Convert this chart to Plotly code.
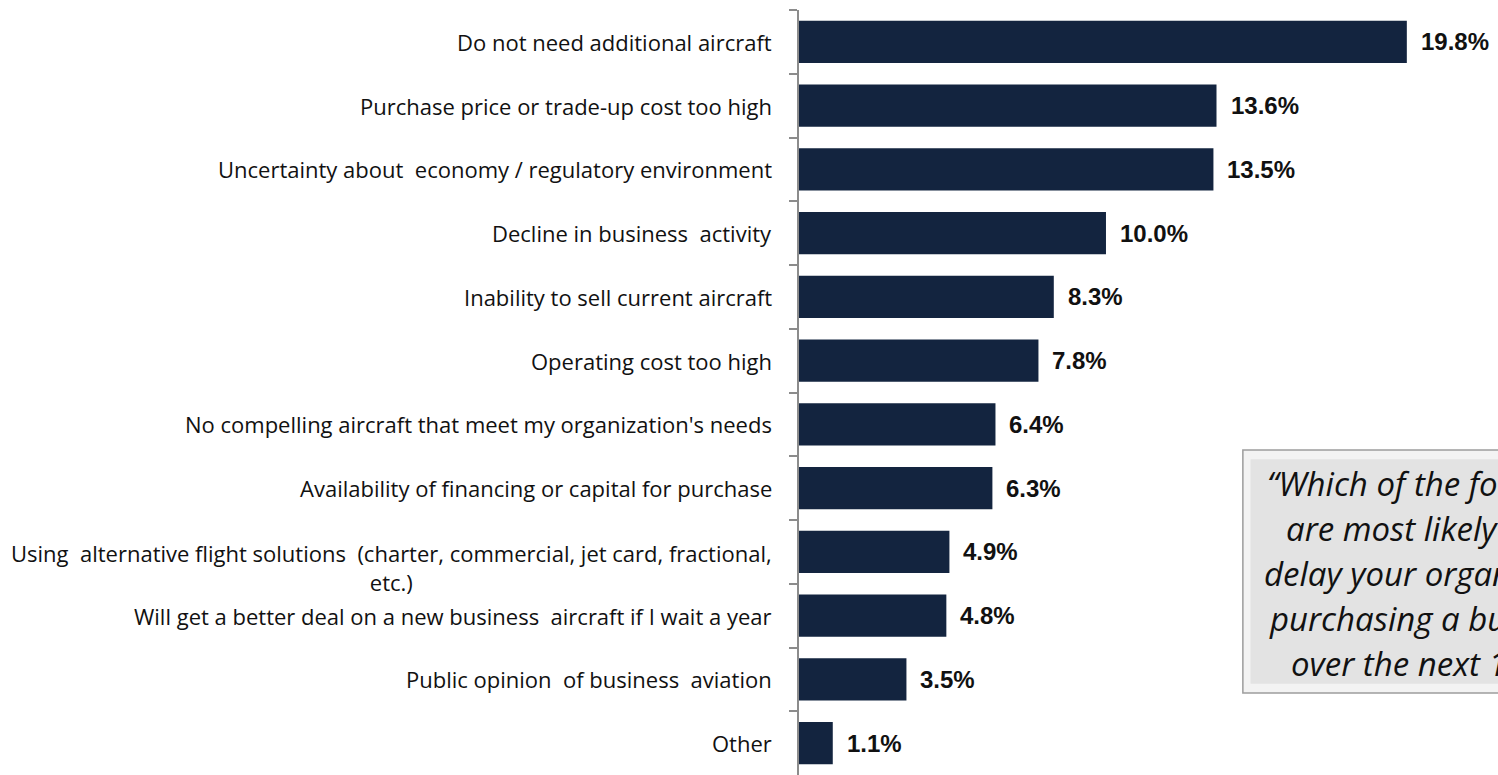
import plotly.graph_objects as go

# survey answers, top to bottom
categories = [
    "Do not need additional aircraft",
    "Purchase price or trade-up cost too high",
    "Uncertainty about  economy / regulatory environment",
    "Decline in business  activity",
    "Inability to sell current aircraft",
    "Operating cost too high",
    "No compelling aircraft that meet my organization's needs",
    "Availability of financing or capital for purchase",
    "Using  alternative flight solutions  (charter, commercial, jet card, fractional,<br>etc.)",
    "Will get a better deal on a new business  aircraft if I wait a year",
    "Public opinion  of business  aviation",
    "Other",
]
shares = [19.8, 13.6, 13.5, 10.0, 8.3, 7.8, 6.4, 6.3, 4.9, 4.8, 3.5, 1.1]
value_labels = [f"{v:.1f}%" for v in shares]

question_lines = [
    "“Which of the following factors",
    "are most likely to cause you to",
    "delay your organization from",
    "purchasing a business aircraft",
    "over the next 12 months?”",
]

NAVY = "#13243f"
LABEL_FONT = dict(family="Open Sans, Lato, sans-serif", size=22, color="#111111")

fig = go.Figure()

fig.add_trace(go.Bar(
    x=shares,
    y=categories,
    orientation="h",
    marker=dict(color=NAVY, line=dict(width=0)),
    hoverinfo="skip",
    showlegend=False,
))

annotations = []
# category labels (annotations so the wrapped one can be centred)
for cat in categories:
    two_lines = "<br>" in cat
    annotations.append(dict(
        x=0, y=cat, xref="paper", yref="y",
        text=cat, showarrow=False,
        xanchor="right", yanchor="middle", xshift=-25,
        yshift=-16 if two_lines else 0,
        align="center", font=LABEL_FONT,
    ))
# value labels
for v, cat, lab in zip(shares, categories, value_labels):
    annotations.append(dict(
        x=v, y=cat, xref="x", yref="y",
        text=f"<b>{lab}</b>", showarrow=False,
        xanchor="left", yanchor="middle", xshift=12,
        font=dict(family="Arial, Liberation Sans", size=24, color="#111111"),
    ))

# question box (runs off the right edge in the original)
box_x0, box_y0, box_y1 = 0.635, 0.1072, 0.4248
line_x = [0.667, 0.6943, 0.6628, 0.6700, 0.7014]
line_y = [0.3816, 0.3228, 0.2639, 0.2051, 0.1463]
for txt, lx, ly in zip(question_lines, line_x, line_y):
    annotations.append(dict(
        x=lx, y=ly, xref="paper", yref="paper",
        text=f"<i>{txt}</i>", showarrow=False,
        xanchor="left", yanchor="middle",
        font=dict(family="Open Sans, Lato, sans-serif", size=33, color="#111111"),
    ))

shapes = [
    dict(type="rect", xref="paper", yref="paper",
         x0=box_x0, x1=1.3, y0=box_y0, y1=box_y1,
         fillcolor="#f3f3f3", line=dict(color="#9d9d9d", width=1.5), layer="above"),
    dict(type="rect", xref="paper", yref="paper",
         x0=box_x0 + 0.011, x1=1.3, y0=box_y0 + 0.012, y1=box_y1 - 0.012,
         fillcolor="#e3e3e3", line=dict(width=0), layer="above"),
]

fig.update_layout(
    width=1498,
    height=775,
    margin=dict(l=799, r=0, t=10, b=0),
    paper_bgcolor="white",
    plot_bgcolor="white",
    bargap=0.34,
    annotations=annotations,
    shapes=shapes,
    xaxis=dict(
        range=[0, 22.77],
        showgrid=False, zeroline=False, showticklabels=False,
        showline=False, ticks="",
    ),
    yaxis=dict(
        categoryorder="array",
        categoryarray=categories,
        autorange="reversed",
        showticklabels=False,
        showgrid=False,
        showline=True, linecolor="#8c8c8c", linewidth=2,
        ticks="outside", tickson="boundaries", ticklen=8,
        tickcolor="#8c8c8c", tickwidth=1.5,
    ),
)

# drop the default page margin so the figure sits at the window's corner
fig.write_html(
    "out.html",
    config={"displayModeBar": False},
    post_script="document.body.style.margin='0';document.body.style.overflow='hidden';",
)
